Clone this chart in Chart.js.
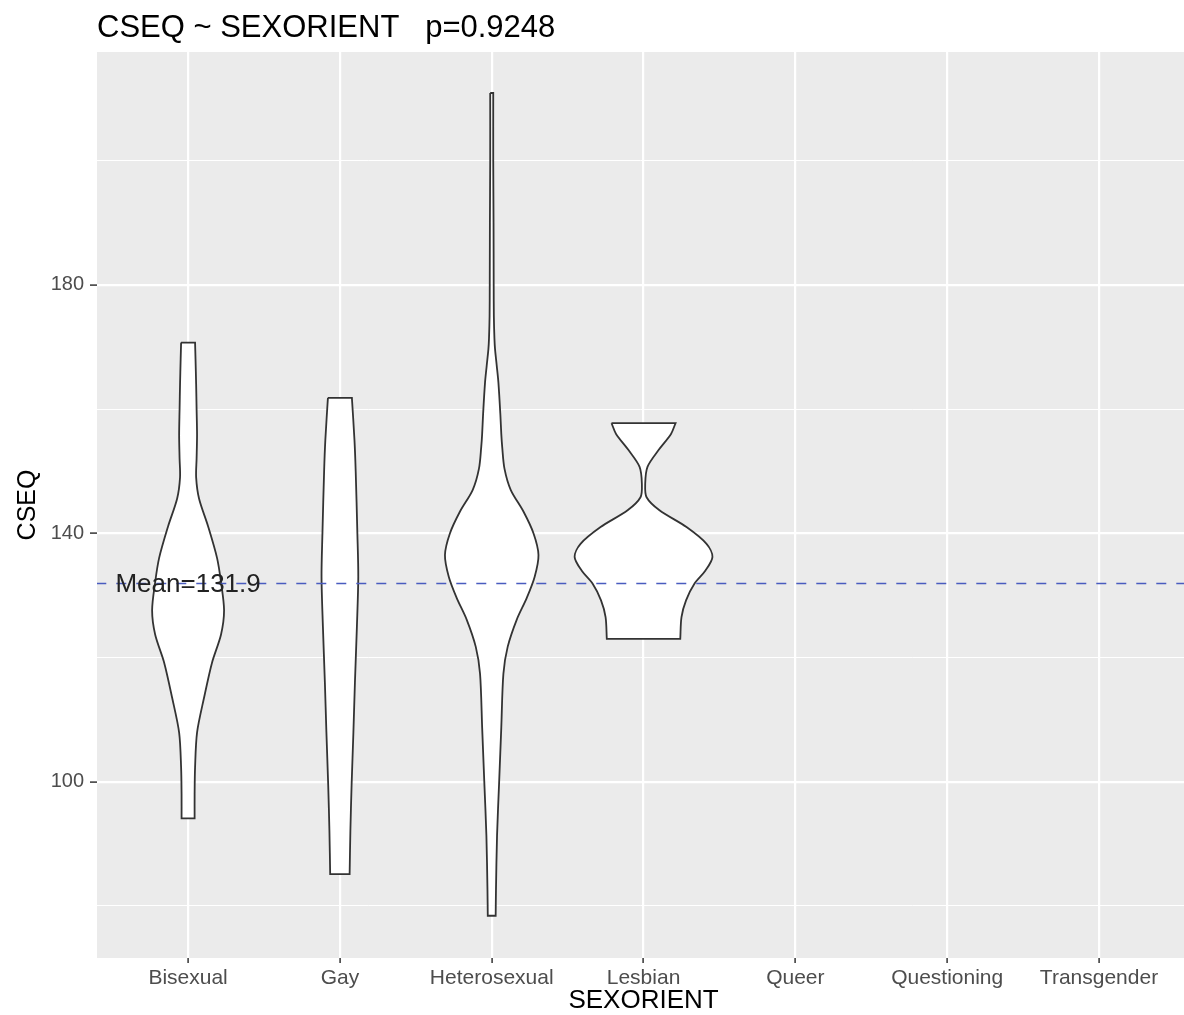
<!DOCTYPE html>
<html><head><meta charset="utf-8">
<script src="https://cdn.jsdelivr.net/npm/chart.js@4/dist/chart.umd.min.js"></script>
<style>html,body{margin:0;padding:0;background:#fff;overflow:hidden}#wrap{width:1184px;height:1015px}</style>
</head><body><div id="wrap"><canvas id="c" width="1184" height="1015"></canvas></div>
<script>
// ---- data ----
const categories = ['Bisexual','Gay','Heterosexual','Lesbian','Queer','Questioning','Transgender'];
const yTickValues = [80,100,120,140,160,180,200];
const yLabelledTicks = [100,140,180];
const meanValue = 131.9;
const pValue = '0.9248';
const titleText = 'CSEQ ~ SEXORIENT   p=' + pValue;
const xTitle = 'SEXORIENT';
const yTitle = 'CSEQ';

// violin profiles: CSEQ value and half width (in category units)
const bisexualY  = [170.7,168,164,160,155.8,152,149,145.6,141.1,136,132.1,127.6,123.7,119.2,113.5,107.9,102.3,98,94.1];
const bisexualHW = [0.046,0.049,0.053,0.056,0.059,0.056,0.053,0.072,0.132,0.191,0.217,0.237,0.217,0.158,0.105,0.059,0.046,0.043,0.043];
const gayY  = [161.8,155,150,140,133,125,116,108,99.4,92,85.1];
const gayHW = [0.079,0.096,0.104,0.115,0.121,0.112,0.099,0.089,0.077,0.069,0.064];
const heteroY  = [210.9,200,190,180,175,171.3,169.6,167,164.3,159.1,156,153.9,150.4,147,143.5,140,136.5,133,129.6,126.1,121.7,117.4,108.7,100,91.3,82.6,78.4];
const heteroHW = [0.010,0.010,0.012,0.013,0.014,0.018,0.022,0.033,0.044,0.057,0.063,0.069,0.084,0.125,0.209,0.275,0.308,0.283,0.231,0.165,0.105,0.077,0.063,0.049,0.035,0.028,0.026];
const lesbianY  = [157.75,156,153.4,150.7,148,145.8,143.7,141,138.3,136.2,134,131.9,129.2,126.5,123];
const lesbianHW = [0.211,0.181,0.099,0.026,0.011,0.020,0.105,0.283,0.415,0.454,0.408,0.336,0.280,0.250,0.242];

const violins = [
  {cat:'Bisexual', y:bisexualY, hw:bisexualHW},
  {cat:'Gay', y:gayY, hw:gayHW},
  {cat:'Heterosexual', y:heteroY, hw:heteroHW},
  {cat:'Lesbian', y:lesbianY, hw:lesbianHW}
];

// outline of a violin: left side top->bottom, right side bottom->top;
// corner points are repeated so the curve keeps sharp flat ends
function outline(v){
  const c = categories.indexOf(v.cat) + 1;
  const n = v.y.length;
  const left = [], right = [];
  for (let i=0;i<n;i++) left.push({x:c - v.hw[i], y:v.y[i]});
  for (let i=n-1;i>=0;i--) right.push({x:c + v.hw[i], y:v.y[i]});
  const pts = [left[0]].concat(left, [left[n-1]], [right[0]], right, [right[n-1]], [left[0]], [left[0]]);
  return pts;
}

const FONT = "'Liberation Sans', Arial, Helvetica, sans-serif";

const datasets = [{
  label:'mean',
  data:[{x:0,y:meanValue},{x:8,y:meanValue}],
  showLine:true, pointRadius:0, borderColor:'#4a5cbf', borderWidth:1.6,
  borderDash:[10,10], fill:false
}].concat(violins.map(v => ({
  label:v.cat,
  data:outline(v),
  showLine:true, pointRadius:0, borderColor:'#333333', borderWidth:1.8,
  backgroundColor:'#ffffff', fill:'shape', tension:0.3
})));

const deco = {
  id:'deco',
  beforeDraw(chart){
    const a = chart.chartArea, ctx = chart.ctx;
    ctx.save();
    ctx.fillStyle = '#EBEBEB';
    ctx.fillRect(a.left, a.top, a.right - a.left, a.bottom - a.top);
    ctx.restore();
  },
  afterDraw(chart){
    const a = chart.chartArea, ctx = chart.ctx;
    const xs = chart.scales.x, ys = chart.scales.y;
    ctx.save();
    ctx.fillStyle = '#000';
    ctx.font = '31px ' + FONT;
    ctx.textAlign = 'left'; ctx.textBaseline = 'alphabetic';
    ctx.fillText(titleText, a.left, 37);
    ctx.font = '26px ' + FONT;
    ctx.textAlign = 'center'; ctx.textBaseline = 'middle';
    ctx.fillText(xTitle, xs.getPixelForValue(4), 1001);
    ctx.save();
    ctx.translate(28, (a.top + a.bottom)/2);
    ctx.rotate(-Math.PI/2);
    ctx.font = '25px ' + FONT;
    ctx.fillText(yTitle, 0, 0);
    ctx.restore();
    ctx.fillStyle = '#222222';
    ctx.font = '26px ' + FONT;
    ctx.fillText('Mean=' + meanValue, xs.getPixelForValue(1), ys.getPixelForValue(meanValue) + 1);
    ctx.restore();
  }
};

new Chart(document.getElementById('c'), {
  type:'scatter',
  data:{datasets},
  plugins:[deco],
  options:{
    responsive:false, animation:false, events:[], devicePixelRatio:1,
    layout:{padding:{top:52,left:0,right:0,bottom:0}},
    plugins:{legend:{display:false}, tooltip:{enabled:false}, title:{display:false}},
    scales:{
      x:{
        type:'linear', min:0.4, max:7.56,
        afterBuildTicks(s){ s.ticks = categories.map((c,i)=>({value:i+1})); },
        afterFit(s){ s.height = 57; },
        ticks:{ callback:(v)=>categories[v-1] || '', autoSkip:false, maxRotation:0, color:'#4d4d4d', font:{family:FONT,size:21}, padding:3 },
        grid:{ color:'#ffffff', lineWidth:2.2, tickLength:5, tickColor:'#333333', tickWidth:1.5 },
        border:{display:false}
      },
      y:{
        type:'linear', min:71.6, max:217.5,
        afterBuildTicks(s){ s.ticks = yTickValues.map(v=>({value:v})); },
        afterFit(s){ s.width = 97; },
        ticks:{ callback:(v)=> yLabelledTicks.includes(v) ? String(v) : '', autoSkip:false, color:'#4d4d4d', font:{family:FONT,size:20}, padding:6 },
        grid:{
          color:'#ffffff',
          lineWidth:(ctx)=> (ctx.tick && yLabelledTicks.includes(ctx.tick.value)) ? 2.2 : 1,
          tickLength:7,
          tickColor:(ctx)=> (ctx.tick && yLabelledTicks.includes(ctx.tick.value)) ? '#333333' : 'rgba(0,0,0,0)',
          tickWidth:1.5
        },
        border:{display:false}
      }
    }
  }
});
</script></body></html>
